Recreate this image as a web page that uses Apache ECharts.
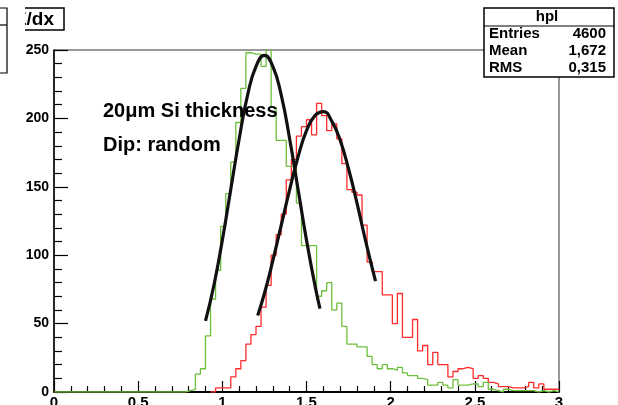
<!DOCTYPE html>
<html>
<head>
<meta charset="utf-8">
<script src="https://cdn.jsdelivr.net/npm/echarts@6/dist/echarts.min.js"></script>
<style>
  html, body { margin: 0; padding: 0; background: #fff; }
  #chart { width: 618px; height: 405px; }
</style>
</head>
<body>
<div id="chart"></div>
<script>
// histogram binning: 100 bins of 0.03 between 0 and 3
const binWidth = 0.03;
const xTicks = [0, 0.5, 1, 1.5, 2, 2.5, 3];
const yTicks = [0, 50, 100, 150, 200, 250];

// green histogram, first bin at 0
const greenStart = 0;
const greenCounts = [
    0, 0, 0, 0, 0, 0, 0, 0, 0, 0, 0, 0, 0, 0, 0, 0, 0, 0, 0, 0, 0, 0, 0, 0, 0, 0,
    1, 2, 13, 17, 41, 68, 89, 121, 145, 168,
    197, 222, 248, 247, 247, 238, 252, 208, 184, 184,
    165, 165, 138, 107, 107, 107, 70, 74, 80, 60,
    65, 48, 35, 35, 33, 33, 26, 20, 17, 20,
    17, 16, 18, 14, 12, 12, 10, 9, 5, 5,
    7, 5, 3, 9, 5, 5, 6, 6, 4, 7,
    2, 1, 0, 2, 1, 1, 1, 1, 1, 0,
    1, 0, 1, 0
];

// red histogram (hpl), first bin at 0.93
const redStart = 0.93;
const redCounts = [
    0, 3, 3, 3, 11, 17, 23, 35, 42, 48, 62,
    78, 100, 115, 130, 155, 170, 187, 194, 199, 188,
    211, 202, 191, 196, 185, 167, 148, 146, 144, 122,
    95, 88, 88, 71, 71, 50, 72, 40, 40, 53,
    30, 34, 20, 29, 20, 20, 11, 15, 17, 18,
    17, 10, 12, 10, 7, 6, 4, 4, 3, 3,
    3, 4, 7, 3, 6, 2, 2, 2
];

// gaussian fit curves
const greenFitX = [0.90, 0.95, 1.00, 1.05, 1.10, 1.15, 1.20, 1.25, 1.30, 1.35, 1.40, 1.45, 1.50, 1.55, 1.58];
const greenFitY = [52, 78, 111, 148, 185, 217, 238, 246, 238, 217, 185, 148, 111, 78, 61];
const redFitX = [1.21, 1.25, 1.30, 1.35, 1.40, 1.45, 1.50, 1.55, 1.60, 1.65, 1.70, 1.75, 1.80, 1.85, 1.91];
const redFitY = [56, 72, 96, 122, 148, 172, 191, 202, 205, 198, 184, 163, 138, 111, 81];

// stats box
const statsTitle = 'hpl';
const statsRows = [['Entries', '4600'], ['Mean', '1,672'], ['RMS', '0,315']];

function toSteps(start, counts) {
    let pts = counts.map((c, i) => [+(start + i * binWidth).toFixed(2), c]);
    pts.push([+(start + counts.length * binWidth).toFixed(2), counts[counts.length - 1]]);
    return pts;
}
function zip(xs, ys) {
    return xs.map((x, i) => [x, ys[i]]);
}

const font = 'Liberation Sans, Arial, sans-serif';
const chart = echarts.init(document.getElementById('chart'));

let statsGraphics = [
    { type: 'rect', shape: { x: 484, y: 8, width: 130, height: 69 }, style: { fill: '#fff', stroke: '#000', lineWidth: 1.5 }, z: 10 },
    { type: 'line', shape: { x1: 484, y1: 26, x2: 614, y2: 26 }, style: { stroke: '#000', lineWidth: 1.2 }, z: 11 },
    { type: 'text', x: 547, y: 17, style: { text: statsTitle, font: 'bold 15px ' + font, fill: '#000', textAlign: 'center', textVerticalAlign: 'middle' }, z: 11 }
];
statsRows.forEach((r, i) => {
    let y = 34 + i * 17;
    statsGraphics.push({ type: 'text', x: 489, y: y, style: { text: r[0], font: 'bold 15px ' + font, fill: '#000', textAlign: 'left', textVerticalAlign: 'middle' }, z: 11 });
    statsGraphics.push({ type: 'text', x: 606, y: y, style: { text: r[1], font: 'bold 15px ' + font, fill: '#000', textAlign: 'right', textVerticalAlign: 'middle' }, z: 11 });
});

const option = {
    animation: false,
    backgroundColor: '#fff',
    grid: {
        left: 54,
        top: 50,
        right: 59,
        bottom: 13,
        outerBoundsMode: 'none',
        containLabel: false,
        show: true,
        borderColor: '#333',
        borderWidth: 1
    },
    xAxis: {
        type: 'value',
        min: 0,
        max: 3,
        interval: 0.5,
        axisLine: { show: true, onZero: false, lineStyle: { color: '#000', width: 2 } },
        axisTick: { show: true, inside: true, length: 11, lineStyle: { color: '#000', width: 1.2 } },
        minorTick: { show: true, splitNumber: 5, length: 6, lineStyle: { color: '#000', width: 1.2 } },
        splitLine: { show: false },
        axisLabel: {
            margin: 3,
            color: '#000',
            fontSize: 15,
            fontWeight: 'bold',
            fontFamily: font,
            customValues: xTicks
        }
    },
    yAxis: {
        type: 'value',
        min: 0,
        max: 250,
        interval: 50,
        axisLine: { show: true, onZero: false, lineStyle: { color: '#000', width: 1.5 } },
        axisTick: { show: true, inside: true, length: 14, lineStyle: { color: '#000', width: 1.2 } },
        minorTick: { show: true, splitNumber: 5, length: 8, lineStyle: { color: '#000', width: 1.2 } },
        splitLine: { show: false },
        axisLabel: {
            margin: 5,
            color: '#000',
            fontSize: 14,
            fontWeight: 'bold',
            fontFamily: font,
            customValues: yTicks
        }
    },
    series: [{
        name: 'hpl',
        type: 'line',
        step: 'end',
        symbol: 'none',
        z: 3,
        lineStyle: { color: '#ff2b2b', width: 1.3 },
        data: toSteps(redStart, redCounts)
    }, {
        name: 'green',
        type: 'line',
        step: 'end',
        symbol: 'none',
        z: 4,
        lineStyle: { color: '#6cc03c', width: 1.3 },
        data: toSteps(greenStart, greenCounts)
    }, {
        name: 'fit green',
        type: 'line',
        smooth: true,
        symbol: 'none',
        z: 5,
        lineStyle: { color: '#111', width: 3.2 },
        data: zip(greenFitX, greenFitY)
    }, {
        name: 'fit red',
        type: 'line',
        smooth: true,
        symbol: 'none',
        z: 5,
        lineStyle: { color: '#111', width: 3.2 },
        data: zip(redFitX, redFitY)
    }],
    graphic: [
        // title box in the top left (partly outside the view)
        { type: 'text', x: 54, y: 20, style: { text: 'dE/dx', font: 'bold 19px ' + font, fill: '#000', textAlign: 'right', textVerticalAlign: 'middle' }, z: 10 },
        { type: 'rect', shape: { x: 0, y: 6, width: 25, height: 26 }, style: { fill: '#fff' }, z: 11 },
        { type: 'polyline', shape: { points: [[25, 8], [64, 8], [64, 30], [25, 30]] }, style: { stroke: '#000', lineWidth: 1.5, fill: null }, z: 12 },
        // neighbour box edge at the far left
        { type: 'polyline', shape: { points: [[0, 8], [7, 8], [7, 73], [0, 73]] }, style: { stroke: '#000', lineWidth: 1.2, fill: null }, z: 12 },
        { type: 'line', shape: { x1: 0, y1: 25, x2: 7, y2: 25 }, style: { stroke: '#000', lineWidth: 1.2 }, z: 12 },
        // annotations
        { type: 'text', x: 103, y: 111, style: { text: '20\u03bcm Si thickness', font: 'bold 20px ' + font, fill: '#000', textVerticalAlign: 'middle' }, z: 10 },
        { type: 'text', x: 103, y: 145, style: { text: 'Dip: random', font: 'bold 20px ' + font, fill: '#000', textVerticalAlign: 'middle' }, z: 10 }
    ].concat(statsGraphics)
};

chart.setOption(option);
</script>
</body>
</html>
